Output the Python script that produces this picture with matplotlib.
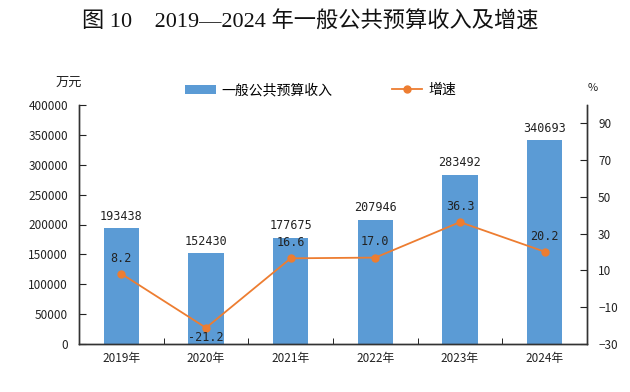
import matplotlib
matplotlib.use("Agg")
import matplotlib.pyplot as plt
import numpy as np

plt.rcParams['font.family'] = ['Noto Sans CJK SC', 'DejaVu Sans']

years = ['2019年', '2020年', '2021年', '2022年', '2023年', '2024年']
revenue = [193438, 152430, 177675, 207946, 283492, 340693]
growth = [8.2, -21.2, 16.6, 17.0, 36.3, 20.2]
growth_labels = ['8.2', '-21.2', '16.6', '17.0', '36.3', '20.2']

bar_color = '#5B9BD5'
line_color = '#ED7D31'
txt = '#222222'

fig = plt.figure(figsize=(6.3, 3.92), dpi=100)
ax = fig.add_axes([79 / 630, 1 - 344 / 392, (587 - 79) / 630, (344 - 105) / 392])
ax2 = ax.twinx()

x = np.arange(len(years))
ax.bar(x, revenue, width=0.42, color=bar_color, zorder=2, label='一般公共预算收入')
ax.set_xlim(-0.5, len(years) - 0.5)
ax.set_ylim(0, 400000)
ax.set_yticks(np.arange(0, 400001, 50000))
ax.tick_params(axis='y', direction='in', length=5, labelsize=8.5, colors=txt, pad=8)
ax.set_xticks(x)
ax.set_xticklabels(years, fontsize=8.5, color=txt)
ax.set_xticks(np.arange(0.5, len(years) - 1, 1), minor=True)
ax.tick_params(axis='x', which='major', length=0, pad=6)
ax.tick_params(axis='x', which='minor', direction='in', length=4)
for i, v in enumerate(revenue):
    ax.text(i, v + 9000, str(v), ha='center', va='bottom', fontsize=8.5,
            color=txt, family='DejaVu Sans Mono')

ax2.plot(x, growth, color=line_color, lw=1.3, marker='o', ms=5, zorder=3, label='增速')
ax2.set_ylim(-30, 100)
ax2.set_yticks(np.arange(-30, 91, 20))
ax2.tick_params(axis='y', direction='in', length=5, labelsize=8.5, colors=txt, pad=8)
for i, (v, s) in enumerate(zip(growth, growth_labels)):
    dy = -5 if v < 0 else 5
    ax2.text(i, v + dy, s, ha='center', va='center' if v < 0 else 'bottom',
             fontsize=8.5, color=txt, family='DejaVu Sans Mono', zorder=6)

for a in (ax, ax2):
    a.spines['top'].set_visible(False)
    for s in ('left', 'right', 'bottom'):
        a.spines[s].set_color('#333333')
        a.spines[s].set_linewidth(1)

fig.text(0.493, 1 - 22 / 392, '图 10    2019—2024 年一般公共预算收入及增速', ha='center', va='center',
         fontsize=16, color='#111111', family=['Liberation Serif', 'Noto Sans CJK SC'])
fig.text(56 / 630, 1 - 82 / 392, '万元', ha='left', va='center', fontsize=9.5, color=txt)
fig.text(593 / 630, 1 - 88 / 392, '%', ha='center', va='center', fontsize=8, color=txt)

h1, l1 = ax.get_legend_handles_labels()
h2, l2 = ax2.get_legend_handles_labels()
fig.legend(h1 + h2, l1 + l2, loc='center left', bbox_to_anchor=(185 / 630, 1 - 90 / 392), ncol=2,
           frameon=False, fontsize=10, handlelength=2.2, handleheight=0.6, handletextpad=0.4,
           columnspacing=4.3, borderpad=0, borderaxespad=0)

fig.savefig('out.png', dpi=100)
